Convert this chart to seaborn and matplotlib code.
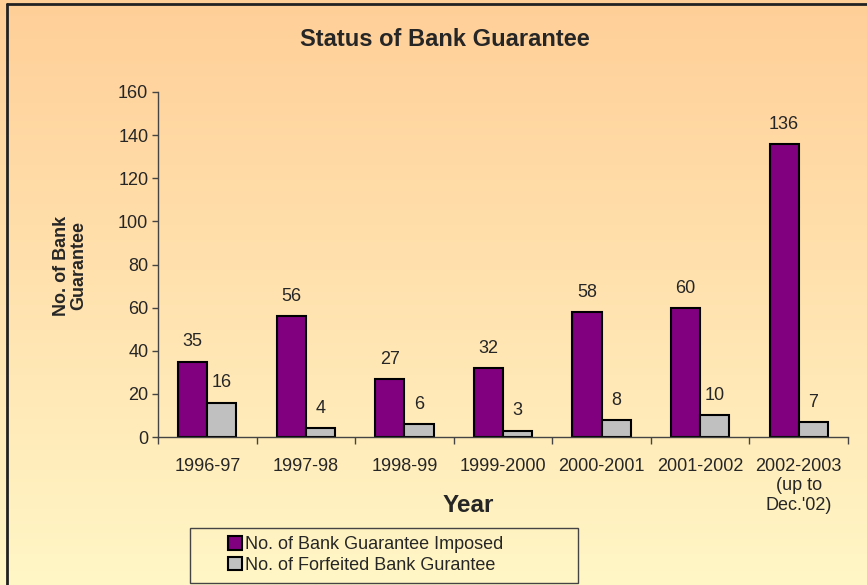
import numpy as np
import pandas as pd
import matplotlib
matplotlib.use("Agg")
import matplotlib.pyplot as plt
from matplotlib.patches import Patch, Rectangle
from matplotlib.lines import Line2D
from matplotlib.colors import LinearSegmentedColormap
import seaborn as sns

# data
years = ["1996-97", "1997-98", "1998-99", "1999-2000", "2000-2001", "2001-2002",
         "2002-2003\n(up to\nDec.'02)"]
imposed = [35, 56, 27, 32, 58, 60, 136]
forfeited = [16, 4, 6, 3, 8, 10, 7]
series = ["No. of Bank Guarantee Imposed", "No. of Forfeited Bank Gurantee"]
colors = ["#800080", "#C0C0C0"]

df = pd.DataFrame({
    "Year": years * 2,
    "Count": imposed + forfeited,
    "Series": [series[0]] * len(years) + [series[1]] * len(years),
})

sns.set_style("white")
plt.rcParams["font.family"] = ["Liberation Sans", "DejaVu Sans"]

W, H = 867, 585
fig = plt.figure(figsize=(W / 100, H / 100), dpi=100)

# gradient background
bg = fig.add_axes([0, 0, 1, 1], zorder=-10)
cmap = LinearSegmentedColormap.from_list("bg", ["#FFCF98", "#FFF6C6"])
bg.imshow(np.linspace(0, 1, 256).reshape(-1, 1), aspect="auto", cmap=cmap,
          extent=[0, 1, 0, 1], origin="upper")
bg.axis("off")

def px(x, y):
    return x / W, 1 - y / H

ax = fig.add_axes([158 / W, (H - 437) / H, 690 / W, (437 - 92) / H])
ax.patch.set_alpha(0)

sns.barplot(data=df, x="Year", y="Count", hue="Series", palette=colors,
            saturation=1, width=0.59, edgecolor="black", linewidth=1.5,
            ax=ax, legend=False)

for cont in ax.containers:
    ax.bar_label(cont, padding=8, fontsize=13)

ax.set_ylim(0, 160)
ax.set_yticks(range(0, 161, 20))
ax.set_xlim(-0.5, len(years) - 0.5)
ax.set_xlabel("")
ax.set_ylabel("")

for s in ["top", "right"]:
    ax.spines[s].set_visible(False)
for s in ["left", "bottom"]:
    ax.spines[s].set_color("#444444")
    ax.spines[s].set_linewidth(1)

ax.tick_params(axis="y", left=True, length=4, width=1, color="#444444",
               labelsize=13, pad=3)
ax.tick_params(axis="x", which="major", length=0, labelsize=13, pad=15)
ax.set_xticks(np.arange(-0.5, len(years)), minor=True)
ax.tick_params(axis="x", which="minor", bottom=True, length=5, width=1,
               color="#444444")

fig.text(*px(445, 40), "Status of Bank Guarantee", ha="center", va="center",
         fontsize=17, fontweight="bold")
fig.text(*px(70, 266), "No. of Bank\nGuarantee", ha="center", va="center",
         rotation=90, fontsize=13, fontweight="bold", linespacing=1.0)
fig.text(*px(468, 505), "Year", ha="center", va="center",
         fontsize=17.5, fontweight="bold")

# legend
handles = [Patch(facecolor=c, edgecolor="black", linewidth=1.5) for c in colors]
fig.legend(handles, series, loc="center left", bbox_to_anchor=px(228, 555),
           frameon=False, fontsize=13, handlelength=0.75, handleheight=0.75,
           handletextpad=0.2, labelspacing=0.2, borderpad=0, borderaxespad=0)
x0, y0 = px(190, 583)
fig.patches.append(Rectangle((x0, y0), 388 / W, 55 / H, transform=fig.transFigure,
                             fill=False, edgecolor="#444444", linewidth=1))

# outer frame (left and top)
fig.lines.append(Line2D([7 / W, 7 / W], [0, 1 - 4 / H], transform=fig.transFigure,
                        color="#222222", linewidth=2))
fig.lines.append(Line2D([7 / W, 1], [1 - 4 / H, 1 - 4 / H], transform=fig.transFigure,
                        color="#222222", linewidth=2))

fig.savefig("out.png", dpi=100)
